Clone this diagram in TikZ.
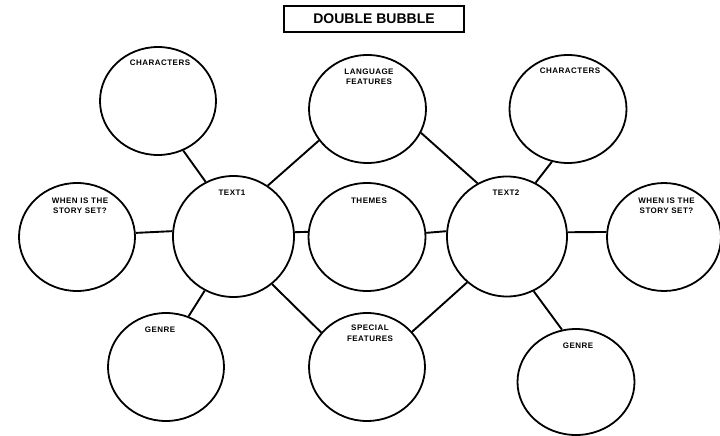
\documentclass[tikz,border=0pt]{standalone}
\usepackage{fontspec}
\setmainfont{Liberation Sans}
\newfontfamily\lblfont[LetterSpace=6]{Liberation Sans}
\usetikzlibrary{shapes.geometric}
\begin{document}
\begin{tikzpicture}[x=1pt,y=-1pt,
  bubble/.style={draw=black,line width=1.8pt,ellipse,minimum width=116pt,minimum height=108pt,inner sep=0pt},
  textbubble/.style={draw=black,line width=1.8pt,circle,minimum size=121pt,inner sep=0pt},
  conn/.style={draw=black,line width=1.9pt},
  lbl/.style={inner sep=0pt,anchor=base,text=black,font=\lblfont\fontsize{8}{10.5}\selectfont\bfseries},
  lbltwo/.style={lbl,anchor=north,align=center},
  titlebox/.style={draw=black,line width=2.2pt,minimum width=180pt,minimum height=26pt,inner sep=0pt,font=\fontsize{14}{16}\selectfont\bfseries}
]
\useasboundingbox (0,0) rectangle (720,436);
\fill[white] (0,0) rectangle (720,436);

\node[titlebox] (title) at (374,19) {DOUBLE BUBBLE};

\node[bubble] (charL) at (158,101) {};
\node[bubble] (whenL) at (77,237) {};
\node[bubble] (genreL) at (166,367) {};
\node[textbubble] (t1) at (233.5,236.5) {};
\node[bubble,minimum width=117pt] (lang) at (367.5,109) {};
\node[bubble,minimum width=117pt] (themes) at (367,237) {};
\node[bubble] (special) at (367,367) {};
\node[textbubble,minimum size=120pt] (t2) at (507,236.5) {};
\node[bubble,minimum width=117pt] (charR) at (568,109) {};
\node[bubble,minimum width=114pt] (whenR) at (664,237) {};
\node[bubble,minimum width=117pt,minimum height=106pt] (genreR) at (576,382) {};

\node[lbl] (lcharL) at (160,66) {CHARACTERS};
\node[lbl] (lt1) at (232,195) {TEXT1};
\node[lbltwo] (lwhenL) at (80,197.3) {WHEN IS THE\\STORY SET?};
\node[lbltwo] (llang) at (369,68.3) {LANGUAGE\\FEATURES};
\node[lbl] (lthemes) at (369,203) {THEMES};
\node[lbl] (lt2) at (506,195) {TEXT2};
\node[lbl] (lcharR) at (570,74) {CHARACTERS};
\node[lbltwo] (lwhenR) at (666.5,197.3) {WHEN IS THE\\STORY SET?};
\node[lbl] (lgenreL) at (160,332) {GENRE};
\node[lbltwo] (lspecial) at (370,325) {SPECIAL\\FEATURES};
\node[lbl] (lgenreR) at (578,348) {GENRE};

\draw[conn] (charL.297) -- (t1.117.6);
\draw[conn] (t1.56.2) -- (lang.213.1);
\draw[conn] (whenL.4.8) -- (t1.175.7);
\draw[conn] (t1.4.3) -- (themes.175);
\draw[conn] (t1.242.3) -- (genreL.66.7);
\draw[conn] (t1.309.9) -- (special.143.5);
\draw[conn] (lang.336.3) -- (t2.119.3);
\draw[conn] (charR.253.2) -- (t2.62.8);
\draw[conn] (themes.4.9) -- (t2.175.7);
\draw[conn] (t2.4.3) -- (whenR.175);
\draw[conn] (t2.229.9) -- (special.38);
\draw[conn] (t2.296) -- (genreR.105);
\end{tikzpicture}
\end{document}
